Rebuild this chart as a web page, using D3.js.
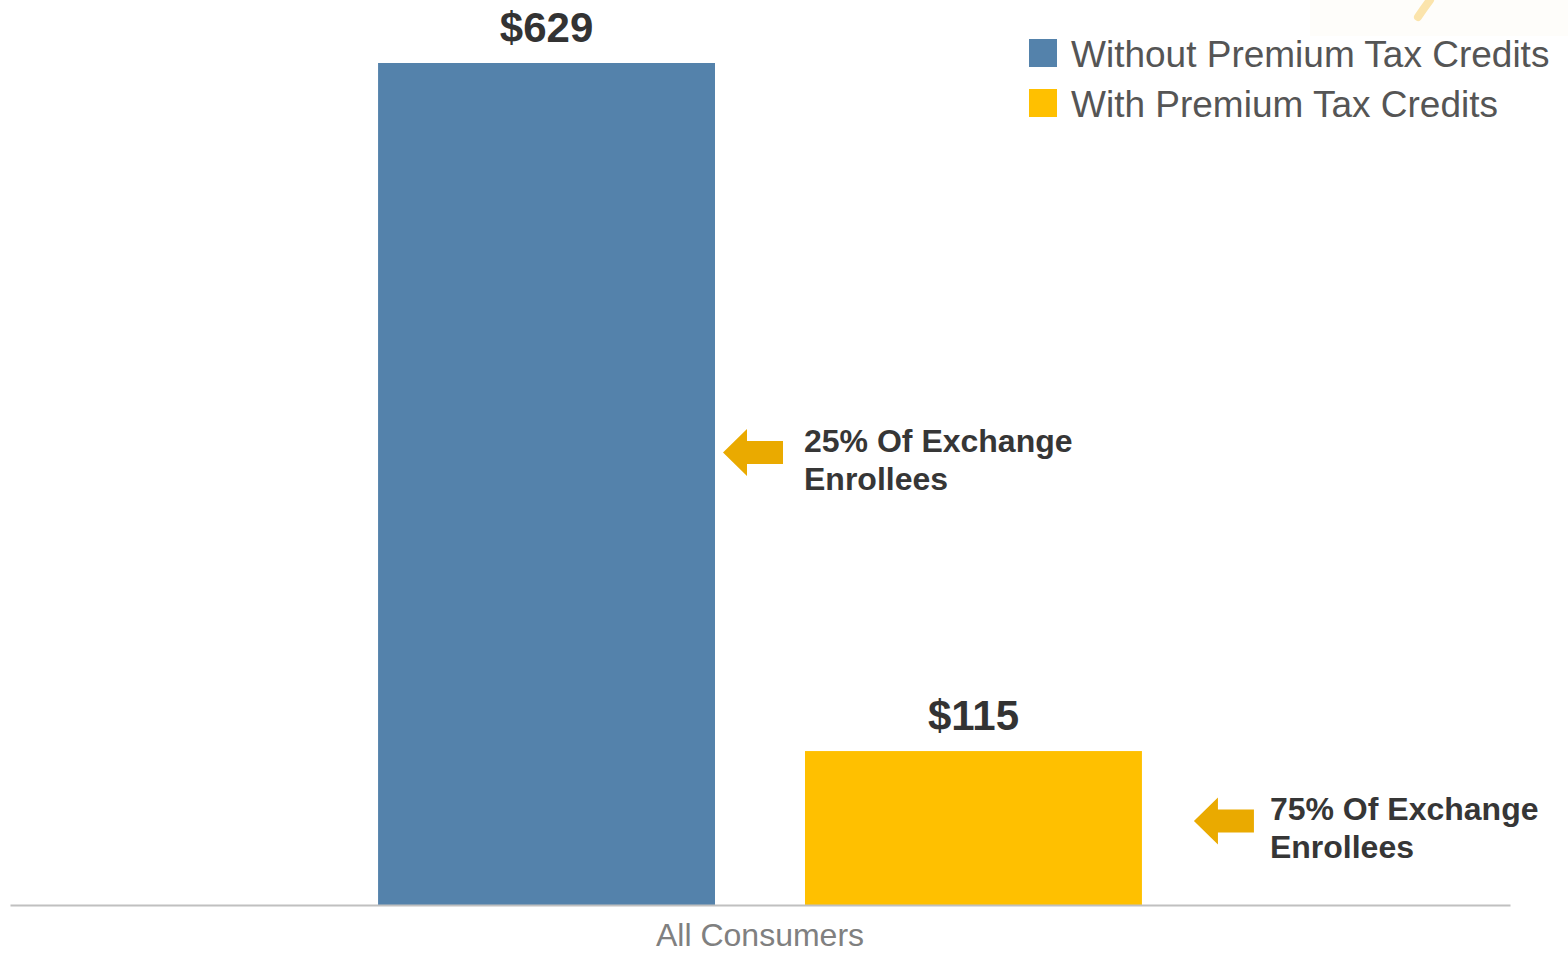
<!DOCTYPE html>
<html>
<head>
<meta charset="utf-8">
<script src="https://cdn.jsdelivr.net/npm/d3@7"></script>
<style>
  html, body { margin: 0; padding: 0; background: #ffffff; }
  svg { display: block; font-family: "Liberation Sans", Arial, sans-serif; }
</style>
</head>
<body>
<svg id="chart" width="1568" height="953"></svg>
<script>
// ---- data ----
const categories = ["All Consumers"];
const series = ["Without Premium Tax Credits", "With Premium Tax Credits"];
const values = [629, 115];
const valueLabels = ["$629", "$115"];
const colors = ["#5482AB", "#FFC000"];
const annotations = [
  ["25% Of Exchange", "Enrollees"],
  ["75% Of Exchange", "Enrollees"]
];

const svg = d3.select("#chart");

// faint decoration in the top-right corner
svg.append("rect").attr("x", 1310).attr("y", 0).attr("width", 258).attr("height", 36).attr("fill", "#fefdfa");
svg.append("path").attr("d", "M1418,17 Q1424,8 1430,0")
  .attr("stroke", "#fbe4ac").attr("stroke-width", 8).attr("stroke-linecap", "round").attr("fill", "none");

// ---- scales ----
const x0 = d3.scaleBand().domain(categories).range([10, 1510]).padding(0.2745);
const x1 = d3.scaleBand().domain(series).range([0, x0.bandwidth()]).paddingInner(0.2108).paddingOuter(0.1054);
const y = d3.scaleLinear().domain([0, 629]).range([905, 63]);

const data = series.map((s, i) => ({ series: s, value: values[i], label: valueLabels[i], color: colors[i], cat: categories[0] }));

// bars
svg.append("g").selectAll("rect").data(data).join("rect")
  .attr("x", d => x0(d.cat) + x1(d.series))
  .attr("y", d => y(d.value))
  .attr("width", x1.bandwidth())
  .attr("height", d => y(0) - y(d.value))
  .attr("fill", d => d.color);

// value labels
svg.append("g").selectAll("text").data(data).join("text")
  .attr("x", d => x0(d.cat) + x1(d.series) + x1.bandwidth() / 2)
  .attr("y", d => y(d.value) - 21)
  .attr("text-anchor", "middle")
  .attr("font-size", 42).attr("font-weight", "bold").attr("fill", "#333333")
  .text(d => d.label);

// x axis
const xAxis = d3.axisBottom(x0).tickSize(0).tickPadding(18);
const gx = svg.append("g").attr("transform", `translate(0,${y(0)})`).call(xAxis);
gx.select(".domain").attr("stroke", "#c0c0c0").attr("stroke-width", 2);
gx.selectAll(".tick text")
  .attr("font-size", 32).attr("fill", "#808080")
  .attr("font-family", "'Liberation Sans', Arial, sans-serif");

// legend
const legend = svg.append("g").attr("transform", "translate(1029,39)");
series.forEach((s, i) => {
  const g = legend.append("g").attr("transform", `translate(0,${i * 50})`);
  g.append("rect").attr("width", 28).attr("height", 28).attr("fill", colors[i]);
  g.append("text").attr("x", 42).attr("y", 28)
    .attr("font-size", 37).attr("fill", "#555555").text(s);
});

// annotations (arrows + text)
const arrowColor = "#EAAA00";
const annoPos = [
  { dx: 8,  ymid: 452.5, tx: 81 },   // offsets from the bar's right edge
  { dx: 52, ymid: 821,   tx: 76 }
];
data.forEach((d, i) => {
  const right = x0(d.cat) + x1(d.series) + x1.bandwidth();
  const tip = right + annoPos[i].dx;
  const ym = annoPos[i].ymid;
  const pts = [
    [tip, ym],
    [tip + 24, ym - 23.5],
    [tip + 24, ym - 11.5],
    [tip + 60, ym - 11.5],
    [tip + 60, ym + 11.5],
    [tip + 24, ym + 11.5],
    [tip + 24, ym + 23.5]
  ];
  svg.append("path").attr("d", d3.line()(pts) + "Z").attr("fill", arrowColor);
  const t = svg.append("text").attr("font-size", 32).attr("font-weight", "bold").attr("fill", "#363636");
  annotations[i].forEach((line, j) => {
    t.append("tspan").attr("x", tip + annoPos[i].tx).attr("y", ym - 1 + j * 38).text(line);
  });
});
</script>
</body>
</html>
